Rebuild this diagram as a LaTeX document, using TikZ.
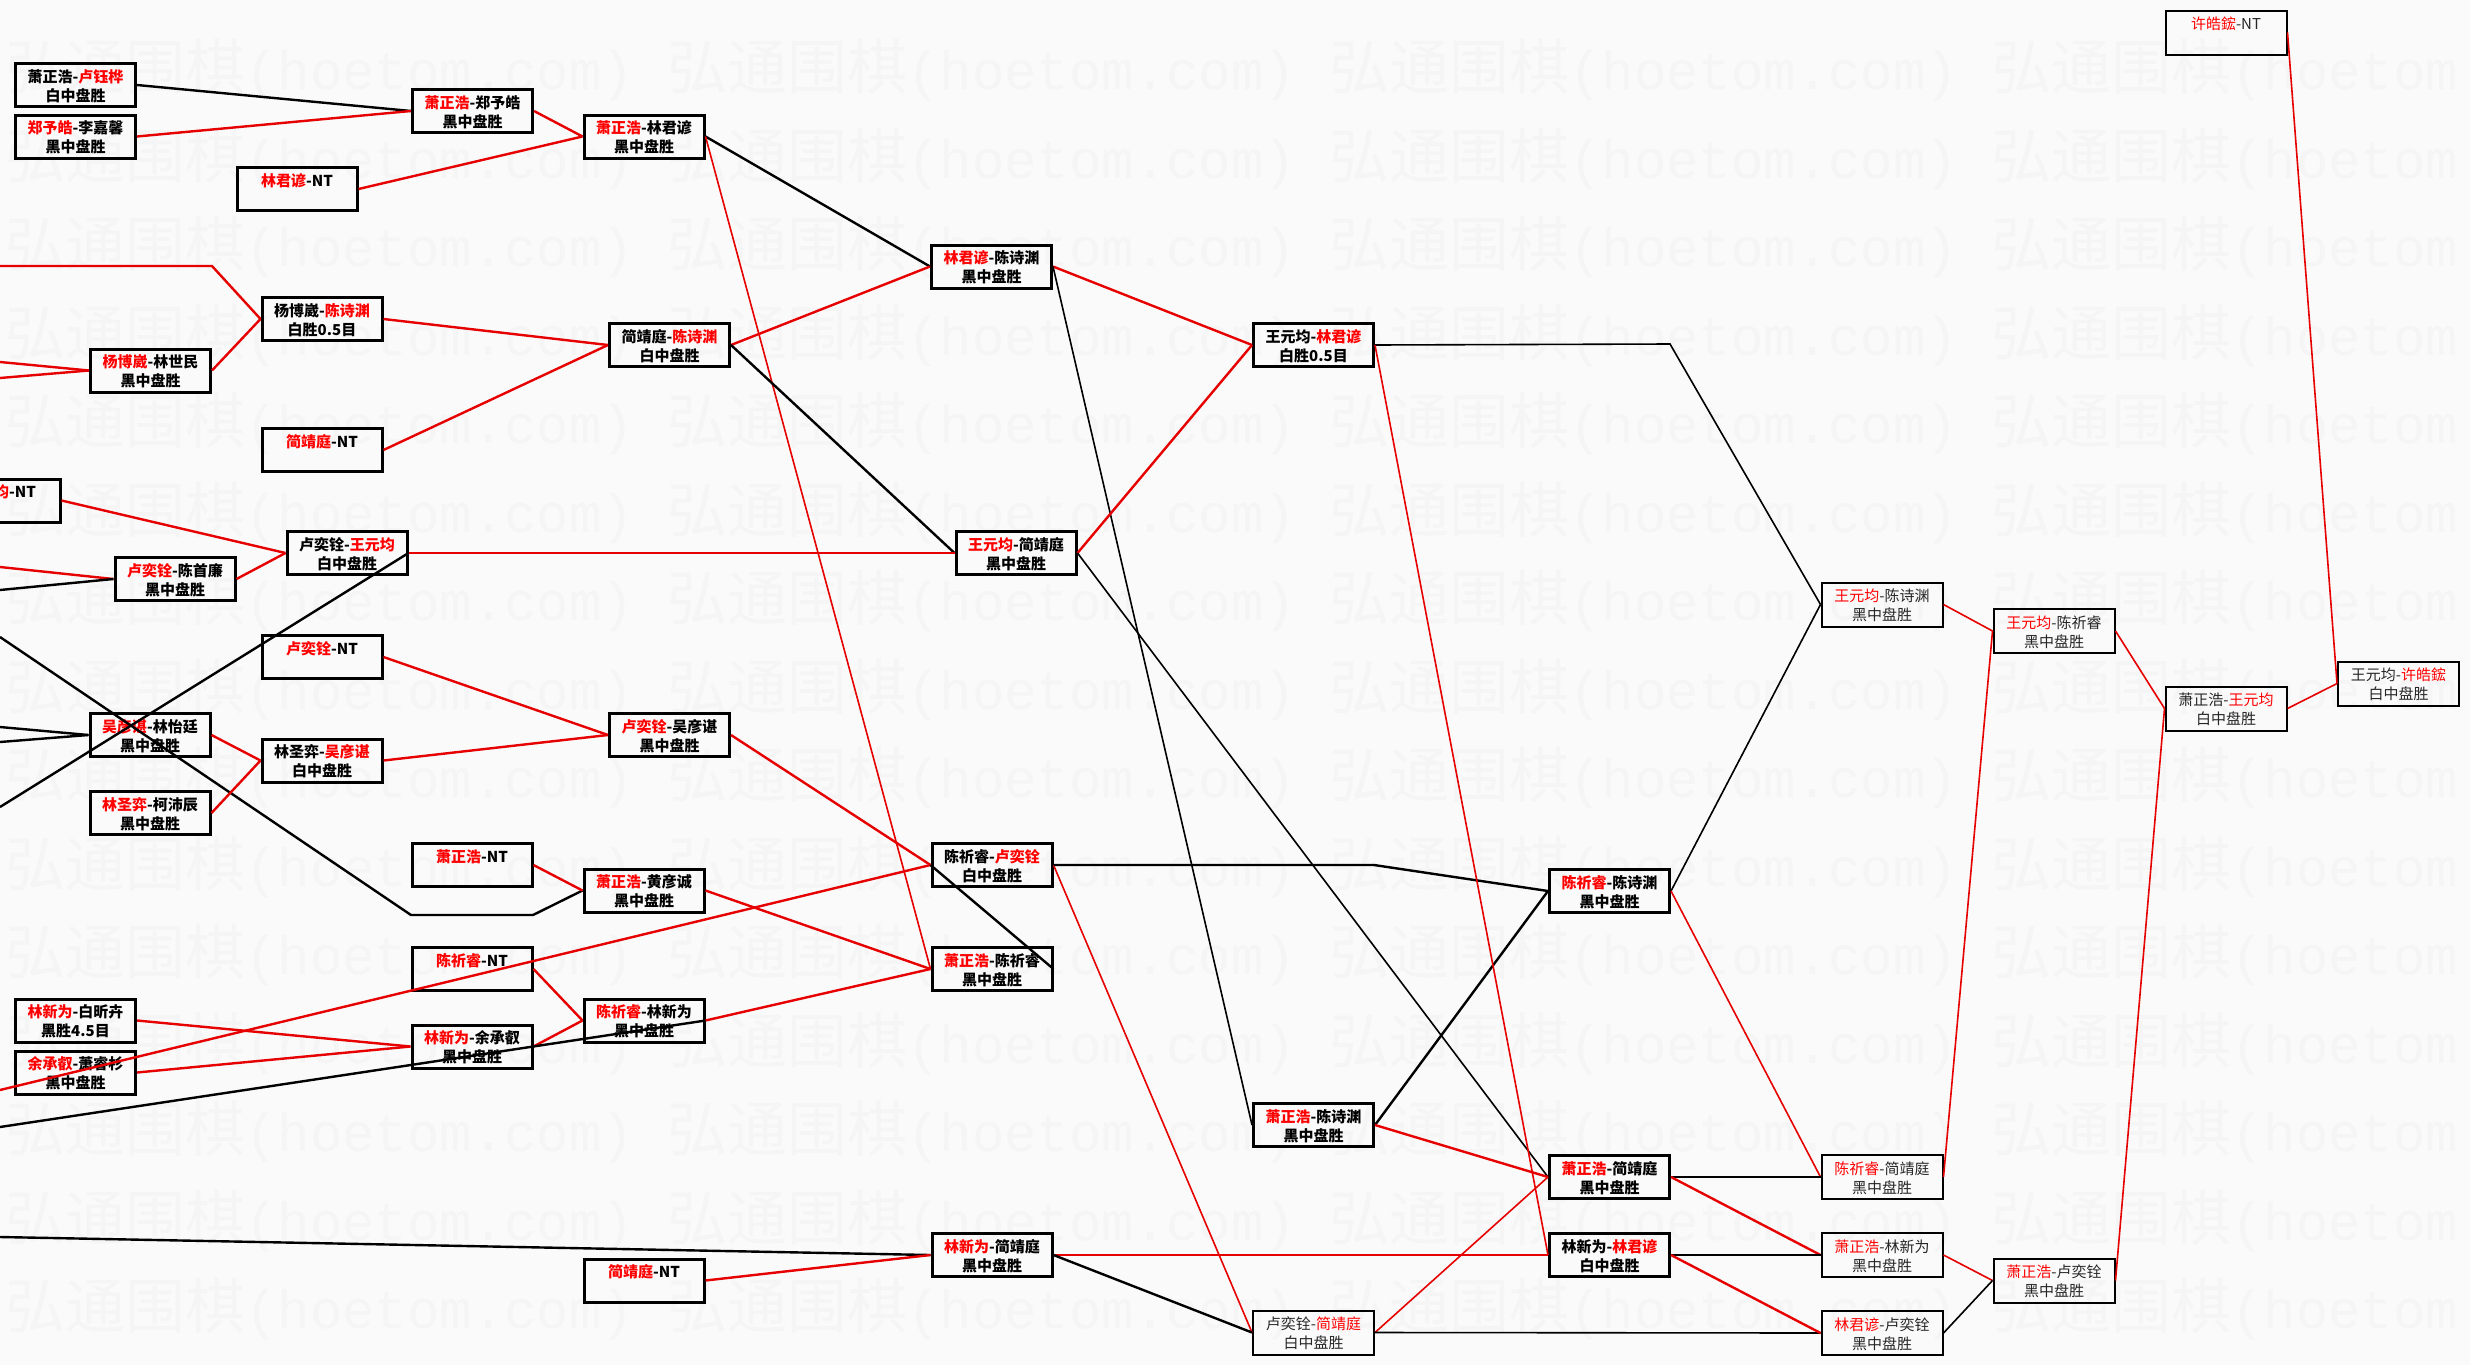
\documentclass[tikz,border=0pt]{standalone}
\usepackage{fontspec}
\setmainfont{Noto Sans CJK SC}
\newfontfamily\wmmono{Liberation Mono}
\definecolor{lred}{RGB}{230,0,0}
\definecolor{tred}{RGB}{255,0,0}
\definecolor{bgc}{RGB}{250,250,250}
\definecolor{wmc}{RGB}{245,245,245}
\newcommand{\rd}[1]{{\color{tred}#1}}
\newcommand{\mystrut}{\rule[-2.6pt]{0pt}{18.6pt}}
\newcommand{\two}[2]{\mystrut#1\\\mystrut#2}
\tikzset{
 thickbox/.style={draw=black, line width=3pt, minimum width=120pt, minimum height=43pt, inner sep=0pt, align=center, font=\fontsize{15}{18.6}\selectfont\bfseries},
 thinbox/.style={draw=black, line width=2pt, minimum width=121pt, minimum height=44pt, inner sep=0pt, align=center, font=\fontsize{15}{18.6}\selectfont, text=black!85},
 win/.style={draw=lred, line width=2.4pt},
 lose/.style={draw=black, line width=2.4pt},
 winthin/.style={draw=lred, line width=1.6pt},
 losethin/.style={draw=black, line width=1.6pt},
 wm/.style={text=wmc, anchor=west, inner sep=0pt, font=\fontsize{60}{60}\selectfont}
}
\begin{document}
\begin{tikzpicture}[x=1pt,y=-1pt]
\useasboundingbox (0,0) rectangle (2470,1365);
\clip (0,0) rectangle (2470,1365);
\fill[bgc] (0,0) rectangle (2470,1365);
% watermark
\foreach \r in {0,...,14}{
  \foreach \c in {0,...,3}{
    \node[wm] (wm-\r-\c) at ({5+662*\c},{70+88.5*\r}) {弘通围棋{\wmmono\fontsize{54}{54}\selectfont(hoetom.com)}};
  }
}
% ---- nodes: thick boxes
\node[thickbox] (A1) at (75.5,85) {\two{萧正浩-\rd{卢钰桦}}{白中盘胜}};
\node[thickbox] (A2) at (75.5,136.5) {\two{\rd{郑予皓}-李嘉馨}{黑中盘胜}};
\node[thickbox] (B2) at (472.5,111) {\two{\rd{萧正浩}-郑予皓}{黑中盘胜}};
\node[thickbox] (C1) at (644,136.5) {\two{\rd{萧正浩}-林君谚}{黑中盘胜}};
\node[thickbox] (B1) at (297,189) {\two{\rd{林君谚}-NT}{}};
\node[thickbox] (B3) at (322,319) {\two{杨博崴-\rd{陈诗渊}}{白胜0.5目}};
\node[thickbox] (A3) at (150.5,370.5) {\two{\rd{杨博崴}-林世民}{黑中盘胜}};
\node[thickbox] (B4) at (322,450) {\two{\rd{简靖庭}-NT}{}};
\node[thickbox] (C2) at (669.5,345) {\two{简靖庭-\rd{陈诗渊}}{白中盘胜}};
\node[thickbox] (A4) at (0,500.5) {\two{\rd{王元均}-NT}{}};
\node[thickbox] (A5) at (175,579) {\two{\rd{卢奕铨}-陈首廉}{黑中盘胜}};
\node[thickbox] (B5) at (347,553) {\two{卢奕铨-\rd{王元均}}{白中盘胜}};
\node[thickbox] (B6) at (322,657) {\two{\rd{卢奕铨}-NT}{}};
\node[thickbox] (A6) at (150,735) {\two{\rd{吴彦谌}-林怡廷}{黑中盘胜}};
\node[thickbox] (B7) at (322,760.5) {\two{林圣弈-\rd{吴彦谌}}{白中盘胜}};
\node[thickbox] (A7) at (150,813) {\two{\rd{林圣弈}-柯沛辰}{黑中盘胜}};
\node[thickbox] (C3) at (669.5,735) {\two{\rd{卢奕铨}-吴彦谌}{黑中盘胜}};
\node[thickbox] (B8) at (472,865) {\two{\rd{萧正浩}-NT}{}};
\node[thickbox] (C4) at (644,890.5) {\two{\rd{萧正浩}-黄彦诚}{黑中盘胜}};
\node[thickbox] (B9) at (472,969) {\two{\rd{陈祈睿}-NT}{}};
\node[thickbox] (C5) at (644,1020.5) {\two{\rd{陈祈睿}-林新为}{黑中盘胜}};
\node[thickbox] (B10) at (472,1046.5) {\two{\rd{林新为}-余承叡}{黑中盘胜}};
\node[thickbox] (A8) at (75.5,1020.5) {\two{\rd{林新为}-白昕卉}{黑胜4.5目}};
\node[thickbox] (A9) at (75.5,1072.5) {\two{\rd{余承叡}-萧睿杉}{黑中盘胜}};
\node[thickbox] (C6) at (644,1280.5) {\two{\rd{简靖庭}-NT}{}};
\node[thickbox] (D1) at (991.5,266.5) {\two{\rd{林君谚}-陈诗渊}{黑中盘胜}};
\node[thickbox] (D2) at (1016,553) {\two{\rd{王元均}-简靖庭}{黑中盘胜}};
\node[thickbox] (D3) at (992,865) {\two{陈祈睿-\rd{卢奕铨}}{白中盘胜}};
\node[thickbox] (D4) at (992,969) {\two{\rd{萧正浩}-陈祈睿}{黑中盘胜}};
\node[thickbox] (D5) at (992,1255) {\two{\rd{林新为}-简靖庭}{黑中盘胜}};
\node[thickbox] (E1) at (1313.5,345) {\two{王元均-\rd{林君谚}}{白胜0.5目}};
\node[thickbox] (E2) at (1313.5,1125) {\two{\rd{萧正浩}-陈诗渊}{黑中盘胜}};
\node[thickbox] (F1) at (1609.5,891) {\two{\rd{陈祈睿}-陈诗渊}{黑中盘胜}};
\node[thickbox] (F2) at (1609.5,1177) {\two{\rd{萧正浩}-简靖庭}{黑中盘胜}};
\node[thickbox] (F3) at (1609.5,1255) {\two{林新为-\rd{林君谚}}{白中盘胜}};
% ---- thin boxes
\node[thinbox] (E3) at (1313.5,1332.5) {\two{卢奕铨-\rd{简靖庭}}{白中盘胜}};
\node[thinbox] (G1) at (1882,604.5) {\two{\rd{王元均}-陈诗渊}{黑中盘胜}};
\node[thinbox] (G2) at (1882,1177) {\two{\rd{陈祈睿}-简靖庭}{黑中盘胜}};
\node[thinbox] (G3) at (1882,1255) {\two{\rd{萧正浩}-林新为}{黑中盘胜}};
\node[thinbox] (G4) at (1882,1333) {\two{\rd{林君谚}-卢奕铨}{黑中盘胜}};
\node[thinbox] (H1) at (2054,631) {\two{\rd{王元均}-陈祈睿}{黑中盘胜}};
\node[thinbox] (H2) at (2054,1280.5) {\two{\rd{萧正浩}-卢奕铨}{黑中盘胜}};
\node[thinbox] (I1) at (2226,708.5) {\two{萧正浩-\rd{王元均}}{白中盘胜}};
\node[thinbox] (I2) at (2226,32.5) {\two{\rd{许皓鋐}-NT}{}};
\node[thinbox] (J1) at (2398.5,683.5) {\two{王元均-\rd{许皓鋐}}{白中盘胜}};
% ---- free ends and bends
\coordinate (o1) at (0,266);
\coordinate (k1) at (212,266);
\coordinate (o2) at (0,362);
\coordinate (o3) at (0,378);
\coordinate (o4) at (0,567);
\coordinate (o5) at (0,590);
\coordinate (o6) at (0,807);
\coordinate (o7) at (0,637);
\coordinate (k2) at (411,915);
\coordinate (k3) at (533,915);
\coordinate (o8) at (0,727);
\coordinate (o9) at (0,742);
\coordinate (o10) at (0,1090);
\coordinate (o11) at (0,1127);
\coordinate (o12) at (0,1237);
\coordinate (k4) at (1374,865);
\coordinate (k5) at (1670,344);
% ---- connectors
\draw[lose] (A1.east) -- (B2.west);
\draw[win] (A2.east) -- (B2.west);
\draw[win] (B2.east) -- (C1.west);
\draw[win] (B1.east) -- (C1.west);
\draw[lose] (C1.east) -- (D1.west);
\draw[winthin] (C1.east) -- (D4.west);
\draw[win] (o1) -- (k1) -- (B3.west);
\draw[win] (A3.east) -- (B3.west);
\draw[win] (o2) -- (A3.west);
\draw[win] (o3) -- (A3.west);
\draw[win] (B3.east) -- (C2.west);
\draw[win] (B4.east) -- (C2.west);
\draw[win] (C2.east) -- (D1.west);
\draw[lose] (C2.east) -- (D2.west);
\draw[win] (D1.east) -- (E1.west);
\draw[losethin] (D1.east) -- (E2.west);
\draw[win] (D2.east) -- (E1.west);
\draw[losethin] (D2.east) -- (F2.west);
\draw[win] (B5.east) -- (D2.west);
\draw[win] (A4.east) -- (B5.west);
\draw[win] (A5.east) -- (B5.west);
\draw[win] (o4) -- (A5.west);
\draw[lose] (o5) -- (A5.west);
\draw[lose] (B5.east) -- (o6);
\draw[lose] (o7) -- (k2) -- (k3) -- (C4.west);
\draw[lose] (o8) -- (A6.west);
\draw[lose] (o9) -- (A6.west);
\draw[win] (A6.east) -- (B7.west);
\draw[win] (A7.east) -- (B7.west);
\draw[win] (B6.east) -- (C3.west);
\draw[win] (B7.east) -- (C3.west);
\draw[win] (C3.east) -- (D3.west);
\draw[win] (o10) -- (D3.west);
\draw[winthin] (D3.east) -- (E3.west);
\draw[lose] (D3.east) -- (k4) -- (F1.west);
\draw[lose] (D4.east) -- (D3.west);
\draw[win] (C4.east) -- (D4.west);
\draw[win] (B8.east) -- (C4.west);
\draw[win] (C5.east) -- (D4.west);
\draw[win] (B9.east) -- (C5.west);
\draw[win] (B10.east) -- (C5.west);
\draw[lose] (o11) -- (C5.east);
\draw[win] (A8.east) -- (B10.west);
\draw[win] (A9.east) -- (B10.west);
\draw[lose] (o12) -- (D5.west);
\draw[win] (C6.east) -- (D5.west);
\draw[win] (D5.east) -- (F3.west);
\draw[lose] (D5.east) -- (E3.west);
\draw[lose] (E2.east) -- (F1.west);
\draw[win] (E2.east) -- (F2.west);
\draw[winthin] (E3.east) -- (F2.west);
\draw[losethin] (E3.east) -- (G4.west);
\draw[losethin] (E1.east) -- (k5) -- (G1.west);
\draw[winthin] (E1.east) -- (F3.west);
\draw[losethin] (F1.east) -- (G1.west);
\draw[winthin] (F1.east) -- (G2.west);
\draw[lose] (F2.east) -- (G2.west);
\draw[win] (F2.east) -- (G3.west);
\draw[lose] (F3.east) -- (G3.west);
\draw[win] (F3.east) -- (G4.west);
\draw[winthin] (G1.east) -- (H1.west);
\draw[winthin] (G2.east) -- (H1.west);
\draw[winthin] (G3.east) -- (H2.west);
\draw[losethin] (G4.east) -- (H2.west);
\draw[winthin] (H1.east) -- (I1.west);
\draw[winthin] (H2.east) -- (I1.west);
\draw[winthin] (I1.east) -- (J1.west);
\draw[winthin] (I2.east) -- (J1.west);
\end{tikzpicture}
\end{document}
